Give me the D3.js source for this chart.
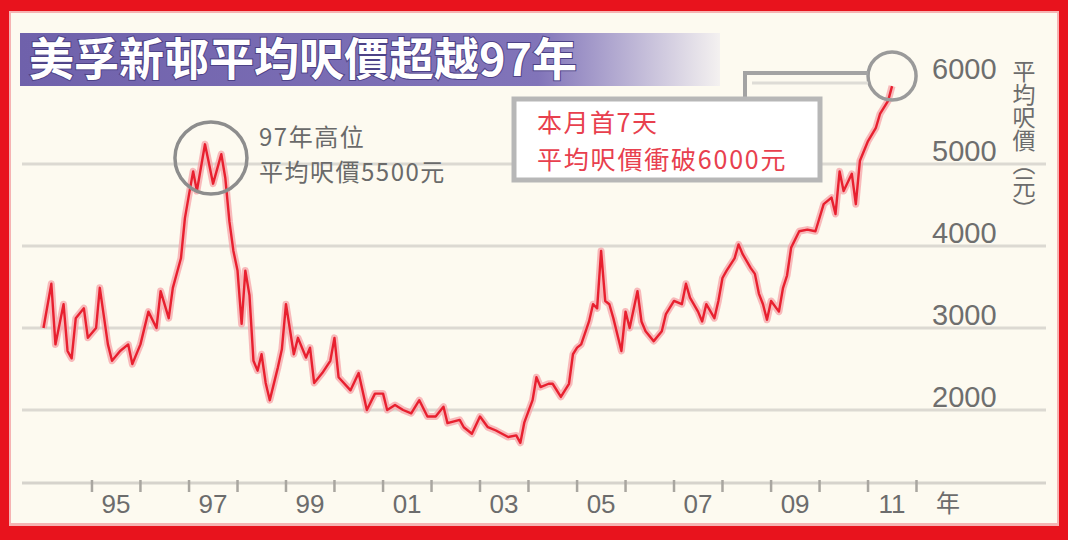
<!DOCTYPE html>
<html><head><meta charset="utf-8">
<script src="https://cdn.jsdelivr.net/npm/d3@7"></script>
<style>html,body{margin:0;padding:0;background:#fff;} svg{display:block}</style>
</head><body>
<svg id="c" width="1068" height="540"></svg>
<script>
// ---------- data ----------
const titleText = "美孚新邨平均呎價超越97年";
const yAxisTitle = "平均呎價（元）";
const xUnit = "年";
const yTickValues = [2000, 3000, 4000, 5000, 6000];
const gridValues = [2000, 3000, 4000, 5000];
const labelYears = [1995, 1997, 1999, 2001, 2003, 2005, 2007, 2009, 2011];
const yearLabels = ["95", "97", "99", "01", "03", "05", "07", "09", "11"];
const tickYears = d3.range(1995, 2013);
const peakNote = ["97年高位", "平均呎價5500元"];
const boxNote = ["本月首7天", "平均呎價衝破6000元"];

const months = [
 "1994-01","1994-03","1994-04","1994-06","1994-07","1994-08","1994-09","1994-11","1994-12",
 "1995-02","1995-03","1995-05","1995-06","1995-08","1995-10","1995-11",
 "1996-01","1996-03","1996-05","1996-06","1996-08","1996-09","1996-11","1996-12",
 "1997-01","1997-02","1997-03","1997-05","1997-06","1997-07","1997-09","1997-10","1997-11","1997-12",
 "1998-01","1998-02","1998-03","1998-04","1998-05","1998-06","1998-07","1998-08","1998-09","1998-11","1998-12",
 "1999-01","1999-03","1999-04","1999-06","1999-07","1999-08","1999-10","1999-12",
 "2000-01","2000-02","2000-05","2000-07","2000-09","2000-11",
 "2001-01","2001-02","2001-04","2001-06","2001-08","2001-10","2001-12",
 "2002-02","2002-04","2002-05","2002-08","2002-09","2002-11",
 "2003-01","2003-03","2003-05","2003-08","2003-10","2003-11","2003-12",
 "2004-02","2004-03","2004-04","2004-06","2004-07","2004-09","2004-11","2004-12",
 "2005-01","2005-02","2005-04","2005-05","2005-06","2005-07","2005-08","2005-09","2005-10","2005-12",
 "2006-01","2006-02","2006-04","2006-05","2006-06","2006-08","2006-10","2006-11",
 "2007-01","2007-03","2007-04","2007-05","2007-07","2007-08","2007-09","2007-11","2007-12",
 "2008-01","2008-02","2008-04","2008-05","2008-06","2008-08","2008-09","2008-10","2008-11","2008-12",
 "2009-01","2009-03","2009-04","2009-05","2009-06","2009-08","2009-10","2009-12",
 "2010-02","2010-04","2010-05","2010-06","2010-07","2010-09","2010-10","2010-11",
 "2011-01","2011-03","2011-04","2011-06","2011-07"
];
const prices = [
 3000,3540,2800,3290,2720,2630,3120,3240,2880,
 3000,3490,2800,2600,2720,2800,2560,
 2800,3200,3000,3450,3120,3490,3850,4340,
 4630,4910,4670,5240,5000,4760,5120,4830,4300,3940,
 3700,3050,3700,3400,2600,2480,2680,2330,2120,2520,2740,
 3290,2680,2880,2640,2760,2330,2450,2600,
 2880,2400,2240,2450,2000,2200,
 2200,2000,2060,2000,1960,2120,1920,
 1920,2040,1840,1880,1790,1710,
 1920,1790,1750,1670,1690,1600,1850,
 2120,2400,2280,2320,2320,2160,2320,2680,
 2760,2800,3080,3290,3240,3940,3330,3290,3120,2720,
 3200,3000,3450,3080,2960,2840,2960,3170,
 3330,3290,3540,3370,3200,3080,3290,3120,3330,
 3610,3700,3850,4020,3900,3730,3660,3420,3290,3100,
 3330,3200,3490,3640,3980,4180,4200,4180,
 4510,4590,4390,4910,4670,4880,4510,5040,
 5280,5440,5610,5770,5950
];

// ---------- setup ----------
const svg = d3.select("#c");
const W = 1068, H = 540;
const parse = d3.timeParse("%Y-%m");
const data = months.map((m, i) => ({ date: parse(m), value: prices[i] }));

const x = d3.scaleTime()
  .domain([new Date(1994, 0, 1), new Date(2012, 0, 1)])
  .range([43.5, 916.5]);
const y = d3.scaleLinear().domain([2000, 6000]).range([410, 82]);
const axisY = 483;
const gridX0 = 22, gridX1 = 1046;

// frame
svg.append("rect").attr("width", W).attr("height", H).attr("fill", "#e8131d");
svg.append("rect").attr("x", 9).attr("y", 11).attr("width", W - 18).attr("height", H - 25)
  .attr("fill", "#f6b3b3");
svg.append("rect").attr("x", 11).attr("y", 13).attr("width", W - 22).attr("height", H - 30)
  .attr("fill", "#fdfaf0");

// title band
const defs = svg.append("defs");
const g1 = defs.append("linearGradient").attr("id", "tb").attr("x1", "0").attr("x2", "1").attr("y1", "0").attr("y2", "0");
g1.append("stop").attr("offset", "0").attr("stop-color", "#6f61ab");
g1.append("stop").attr("offset", "0.74").attr("stop-color", "#8174b9");
g1.append("stop").attr("offset", "1").attr("stop-color", "#f4f1f0");
svg.append("rect").attr("x", 20).attr("y", 33).attr("width", 700).attr("height", 53).attr("fill", "url(#tb)");
svg.append("text").attr("x", 29).attr("y", 76)
  .attr("font-family", "'Noto Sans CJK TC', sans-serif").attr("font-weight", "bold")
  .attr("font-size", 45).attr("fill", "#ffffff")
  .attr("stroke", "#4d4287").attr("stroke-width", 2).attr("paint-order", "stroke")
  .text(titleText);

// gridlines
svg.append("g").selectAll("line").data(gridValues).join("line")
  .attr("x1", gridX0).attr("x2", gridX1)
  .attr("y1", d => y(d)).attr("y2", d => y(d))
  .attr("stroke", "#dcd9d2").attr("stroke-width", 3);

// x axis line
svg.append("line").attr("x1", gridX0).attr("x2", gridX1).attr("y1", axisY).attr("y2", axisY)
  .attr("stroke", "#d6d3cc").attr("stroke-width", 3);

// year ticks
svg.append("g").selectAll("line").data(tickYears).join("line")
  .attr("x1", d => x(new Date(d, 0, 1))).attr("x2", d => x(new Date(d, 0, 1)))
  .attr("y1", axisY - 3).attr("y2", axisY + 9)
  .attr("stroke", "#a9a6a0").attr("stroke-width", 2.5);

// year labels
svg.append("g").selectAll("text").data(labelYears).join("text")
  .attr("x", d => x(new Date(d, 6, 1))).attr("y", 513)
  .attr("text-anchor", "middle")
  .attr("font-family", "'Liberation Sans', Arial, sans-serif").attr("font-size", 26)
  .attr("fill", "#6c6c6c")
  .text((d, i) => yearLabels[i]);
svg.append("text").attr("x", 948).attr("y", 512).attr("text-anchor", "middle")
  .attr("font-family", "'Noto Sans CJK TC', sans-serif").attr("font-size", 24)
  .attr("fill", "#6c6c6c").text(xUnit);

// y labels
svg.append("g").selectAll("text").data(yTickValues).join("text")
  .attr("x", 932).attr("y", d => y(d) - 3)
  .attr("font-family", "'Liberation Sans', Arial, sans-serif").attr("font-size", 29)
  .attr("fill", "#6e6e6e")
  .text(d => d);

// y axis title (vertical)
svg.append("text").attr("x", 1024).attr("y", 60)
  .attr("font-family", "'Noto Sans CJK TC', sans-serif").attr("font-size", 23)
  .attr("fill", "#6c6c6c")
  .style("writing-mode", "vertical-rl")
  .text(yAxisTitle);

// price line
const line = d3.line().x(d => x(d.date)).y(d => y(d.value));
svg.append("path").datum(data).attr("d", line)
  .attr("fill", "none").attr("stroke", "#f5a3a8").attr("stroke-width", 7)
  .attr("stroke-linejoin", "round").attr("opacity", 0.75);
svg.append("path").datum(data).attr("d", line)
  .attr("fill", "none").attr("stroke", "#e8202f").attr("stroke-width", 2.4)
  .attr("stroke-linejoin", "round");

// 97 peak annotation
svg.append("circle").attr("cx", x(new Date(1997, 5, 15))).attr("cy", y(5073)).attr("r", 36)
  .attr("fill", "none").attr("stroke", "#8d8d8d").attr("stroke-width", 3.5);
svg.append("g").selectAll("text").data(peakNote).join("text")
  .attr("x", 259).attr("y", (d, i) => 146 + i * 35)
  .attr("font-family", "'Noto Sans CJK TC', sans-serif").attr("font-size", 24)
  .attr("letter-spacing", 1.5)
  .attr("fill", "#6a6a6a")
  .text(d => d);

// 2011 annotation
const cx2 = x(new Date(2011, 6, 1)), cy2 = y(6073);
svg.append("circle").attr("cx", cx2).attr("cy", cy2).attr("r", 24)
  .attr("fill", "none").attr("stroke", "#9a9a9a").attr("stroke-width", 3.5);
svg.append("line").attr("x1", 752).attr("x2", cx2 - 24).attr("y1", 83).attr("y2", 83)
  .attr("stroke", "#dedcd6").attr("stroke-width", 3);
svg.append("polyline")
  .attr("points", `745,100 745,73 ${cx2 - 24},73`)
  .attr("fill", "none").attr("stroke", "#a3a3a3").attr("stroke-width", 4);
svg.append("rect").attr("x", 514).attr("y", 99).attr("width", 306).attr("height", 81)
  .attr("fill", "#ffffff").attr("stroke", "#b7b7b7").attr("stroke-width", 5);
svg.append("g").selectAll("text").data(boxNote).join("text")
  .attr("x", 537).attr("y", (d, i) => 132 + i * 37)
  .attr("font-family", "'Noto Sans CJK TC', sans-serif").attr("font-size", 25)
  .attr("letter-spacing", (d, i) => i ? 1.8 : 1.5)
  .attr("fill", "#e8404e")
  .text(d => d);
</script>
</body></html>
